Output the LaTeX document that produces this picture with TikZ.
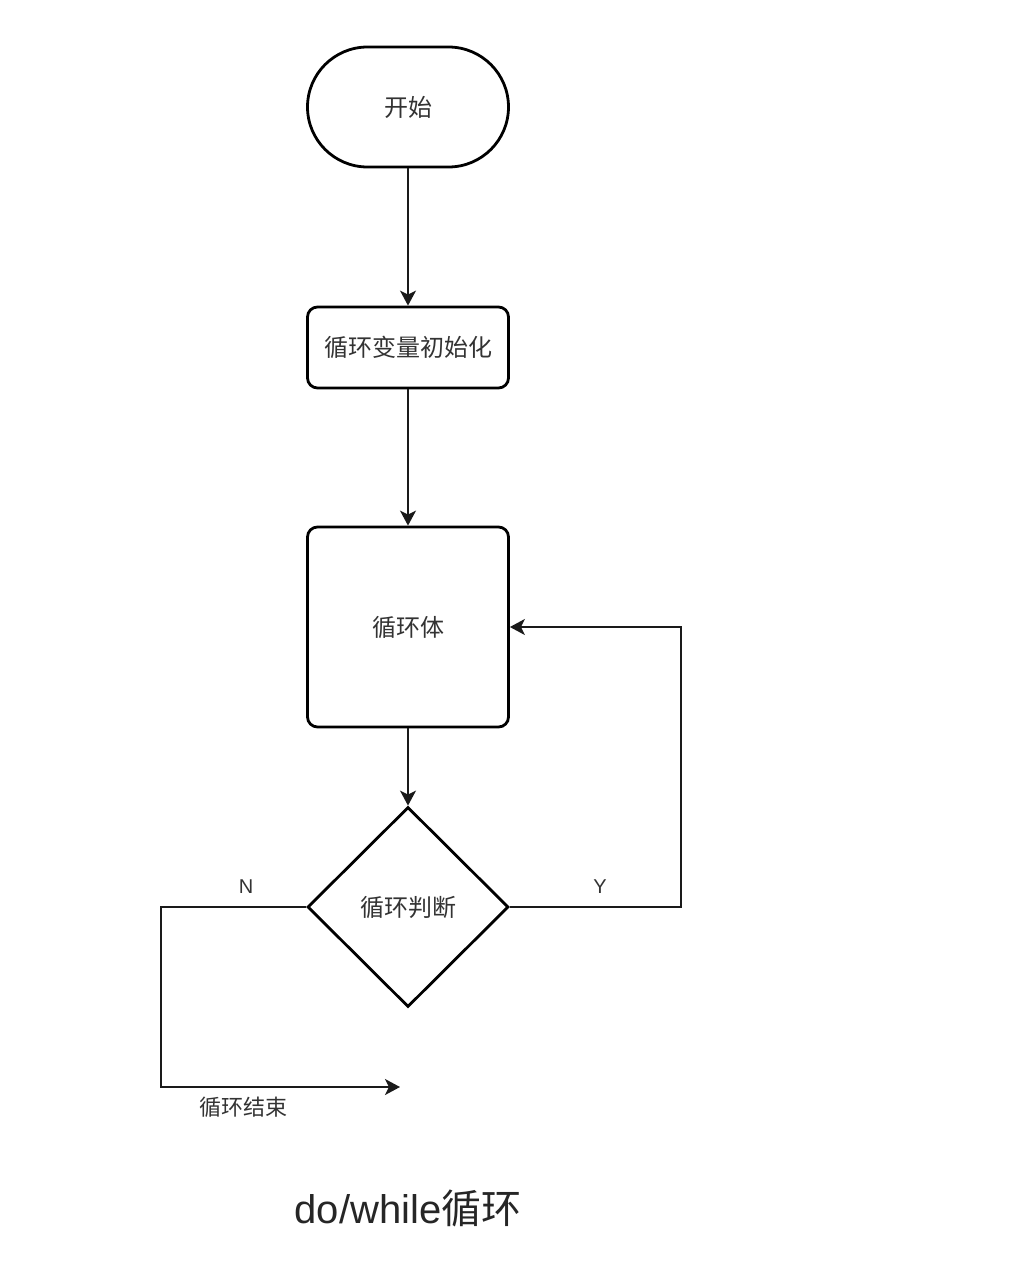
\documentclass[tikz,border=0pt]{standalone}
\usepackage{fontspec}
\setmainfont{Liberation Sans}
\newfontfamily\cjk{Noto Sans CJK SC}
\usetikzlibrary{shapes.geometric,arrows.meta}
\definecolor{txt}{HTML}{333333}
\definecolor{ln}{HTML}{1A1A1A}
\begin{document}
\begin{tikzpicture}[x=1pt,y=-1pt,
  shp/.style={draw=black,line width=2.8pt,fill=white,text=txt,inner sep=0pt,
    font=\cjk\fontsize{24}{28}\selectfont},
  boxs/.style={shp,rectangle,rounded corners=10pt,minimum width=201pt},
  conn/.style={draw=ln,line width=1.8pt,-{Stealth[length=15pt,width=16pt,inset=4pt]}},
  lbl/.style={text=txt,inner sep=0pt,font=\fontsize{20}{24}\selectfont},
  clbl/.style={text=txt,inner sep=0pt,font=\cjk\fontsize{22}{26}\selectfont}]
\useasboundingbox (0,0) rectangle (1011,1266);
\fill[white] (0,0) rectangle (1011,1266);
\node[shp,rectangle,rounded corners=60pt,minimum width=201pt,minimum height=120pt] (start) at (408,107) {开始};
\node[boxs,minimum height=81pt] (init) at (408,347.5) {循环变量初始化};
\node[boxs,minimum height=200pt] (body) at (408,627) {循环体};
\node[shp,diamond,minimum width=201pt,minimum height=200pt] (dec) at (408,907) {循环判断};
\draw[conn] (start) -- (init);
\draw[conn] (init) -- (body);
\draw[conn] (body) -- (dec);
\coordinate (yr) at (681,907);
\coordinate (yt) at (681,627);
\draw[conn] (dec.east) -- (yr) -- (yt) -- (body.east);
\coordinate (nl) at (161,907);
\coordinate (nb) at (161,1087);
\coordinate (ne) at (400,1087);
\draw[conn] (dec.west) -- (nl) -- (nb) -- (ne);
\node[lbl] (ylab) at (600,887) {Y};
\node[lbl] (nlab) at (246,887) {N};
\node[clbl] (endlab) at (243,1107) {循环结束};
\node[text=black!85,inner sep=0pt,font=\fontsize{40}{44}\selectfont] (title) at (408,1208) {do/while{\cjk 循环}};
\end{tikzpicture}
\end{document}
